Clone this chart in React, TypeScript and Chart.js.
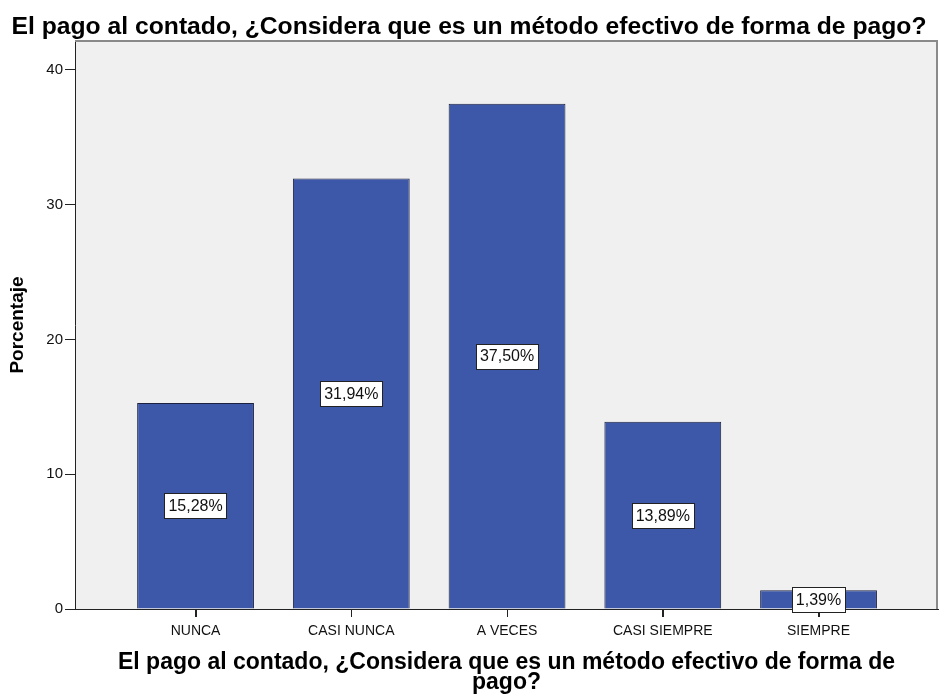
import React, { useEffect, useRef } from "react";
import { Chart, registerables } from "chart.js";

Chart.register(...registerables);

const categories = ["NUNCA", "CASI NUNCA", "A VECES", "CASI SIEMPRE", "SIEMPRE"];
const percentages = [15.28, 31.94, 37.5, 13.89, 1.39];
const yTicks = [0, 10, 20, 30, 40];
const chartTitle = "El pago al contado, ¿Considera que es un método efectivo de forma de pago?";
const xTitleLines = ["El pago al contado, ¿Considera que es un método efectivo de forma de", "pago?"];
const yTitle = "Porcentaje";

const FONT = "'Liberation Sans', Arial, sans-serif";

const plotBg = {
  id: "plotBg",
  beforeDraw(chart: any) {
    const { ctx, chartArea } = chart;
    ctx.save();
    ctx.fillStyle = "#F0F0F0";
    ctx.fillRect(chartArea.left, chartArea.top, chartArea.right - chartArea.left, chartArea.bottom - chartArea.top);
    ctx.restore();
  },
  afterDraw(chart: any) {
    const { ctx, chartArea } = chart;
    ctx.save();
    ctx.strokeStyle = "#8a8a8a";
    ctx.lineWidth = 2;
    ctx.beginPath();
    ctx.moveTo(chartArea.left, chartArea.top);
    ctx.lineTo(chartArea.right - 1, chartArea.top);
    ctx.lineTo(chartArea.right - 1, chartArea.bottom);
    ctx.stroke();
    // x tick marks at category positions
    const xs = chart.scales.x;
    ctx.strokeStyle = "#222";
    ctx.lineWidth = 1;
    ctx.beginPath();
    categories.forEach((_, i) => {
      const px = Math.round(xs.getPixelForValue(i)) + 0.5;
      ctx.moveTo(px, chartArea.bottom);
      ctx.lineTo(px, chartArea.bottom + 8);
    });
    ctx.stroke();
    ctx.restore();
  },
};

const barLabels = {
  id: "barLabels",
  afterDraw(chart: any) {
    const { ctx } = chart;
    const meta = chart.getDatasetMeta(0);
    ctx.save();
    ctx.font = `16px ${FONT}`;
    ctx.textAlign = "center";
    ctx.textBaseline = "middle";
    meta.data.forEach((bar: any, i: number) => {
      const text = percentages[i].toFixed(2).replace(".", ",") + "%";
      const cx = bar.x;
      const cy = (bar.y + bar.base) / 2;
      const w = ctx.measureText(text).width + 8;
      const h = 25;
      const x0 = Math.round(cx - w / 2) + 0.5;
      const y0 = Math.round(cy - h / 2) + 0.5;
      ctx.fillStyle = "#ffffff";
      ctx.fillRect(x0, y0, Math.round(w), h);
      ctx.strokeStyle = "#222";
      ctx.lineWidth = 1;
      ctx.strokeRect(x0, y0, Math.round(w), h);
      ctx.fillStyle = "#111";
      ctx.fillText(text, cx, cy + 1);
    });
    ctx.restore();
  },
};

export default function App() {
  const ref = useRef<HTMLCanvasElement | null>(null);
  useEffect(() => {
    if (!ref.current) return;
    const chart = new Chart(ref.current, {
      type: "bar",
      data: {
        datasets: [
          {
            data: percentages.map((v, i) => ({ x: i, y: v })),
            backgroundColor: "#3E58A9",
            borderColor: "#1c2140",
            borderWidth: 1,
            barPercentage: 0.75,
            categoryPercentage: 1,
          },
        ],
      },
      options: {
        animation: false,
        responsive: true,
        maintainAspectRatio: false,
        layout: { padding: { left: 0, right: 1, top: 0, bottom: 0 } },
        plugins: {
          legend: { display: false },
          tooltip: { enabled: false },
          title: {
            display: true,
            text: chartTitle,
            color: "#000",
            font: { family: FONT, size: 24.7, weight: "bold", lineHeight: "26px" },
            padding: { top: 14, bottom: 1 },
          },
        },
        scales: {
          x: {
            type: "linear",
            offset: false,
            min: -0.774,
            max: 4.767,
            afterFit: (s: any) => {
              s.height = 86;
            },
            afterBuildTicks: (axis: any) => {
              axis.ticks = axis.ticks.filter((t: any) => Number.isInteger(t.value) && t.value >= 0 && t.value < categories.length);
            },
            ticks: {
              stepSize: 1,
              includeBounds: false,
              autoSkip: false,
              maxRotation: 0,
              padding: 6,
              color: "#111",
              font: { family: FONT, size: 14 },
              callback: (v: any) => categories[v as number] ?? "",
            },
            grid: { offset: false, drawOnChartArea: false, drawTicks: true, tickLength: 8, color: "#222" },
            border: { display: true, color: "#222", width: 1 },
            title: {
              display: true,
              text: xTitleLines,
              color: "#000",
              font: { family: FONT, size: 23, weight: "bold", lineHeight: "20px" },
              padding: { top: 0, bottom: 2 },
            },
          },
          y: {
            min: 0,
            max: 42.15,
            afterFit: (s: any) => {
              s.width = 75;
            },
            afterBuildTicks: (axis: any) => {
              axis.ticks = yTicks.map((v) => ({ value: v }));
            },
            ticks: {
              stepSize: 10,
              includeBounds: false,
              padding: 2,
              color: "#111",
              font: { family: FONT, size: 15 },
            },
            grid: { drawOnChartArea: false, drawTicks: true, tickLength: 10, color: "#222" },
            border: { display: true, color: "#222", width: 1 },
            title: {
              display: true,
              text: yTitle,
              color: "#000",
              font: { family: FONT, size: 19, weight: "bold", lineHeight: "20px" },
              padding: { top: 8, bottom: 0 },
            },
          },
        },
      },
      plugins: [plotBg, barLabels],
    });
    return () => chart.destroy();
  }, []);
  return (
    <div style={{ position: "fixed", left: 0, top: 0, width: 939, height: 695, background: "#fff" }}>
      <canvas ref={ref} />
    </div>
  );
}
